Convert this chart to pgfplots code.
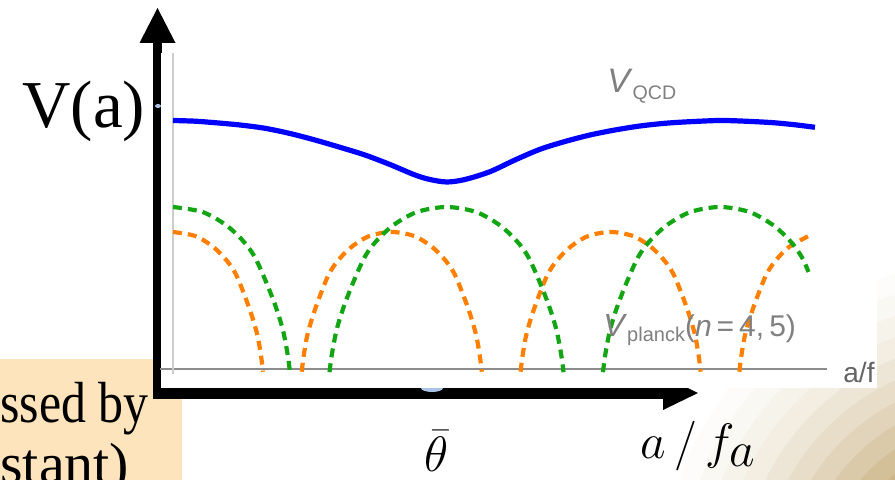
\documentclass[border=0pt]{standalone}
\usepackage{fontspec}
\setmainfont{Liberation Serif}
\newfontfamily\mmafont{Liberation Sans}
\usepackage{graphicx}
\usepackage{pgfplots}
\pgfplotsset{compat=1.18}

\definecolor{vqcd}{RGB}{0,0,255}
\definecolor{pgreen}{RGB}{20,165,20}
\definecolor{porange}{RGB}{255,128,0}
\definecolor{boxbeige}{RGB}{253,228,189}
\definecolor{labgray}{RGB}{128,128,128}
\definecolor{afgray}{RGB}{100,100,100}
\definecolor{axgray}{RGB}{140,140,140}
\definecolor{axlight}{RGB}{205,205,205}
\definecolor{tanc}{RGB}{198,172,122}
\definecolor{blobblue}{RGB}{170,195,228}

\begin{document}
\begin{tikzpicture}[x=0.5pt,y=0.5pt]
\path[use as bounding box] (0,0) rectangle (895,480);
\clip (0,0) rectangle (895,480);

% slide decoration in the lower right corner: concentric tan bands
\foreach \r/\p in {330/4,310/9,290/15,270/22,250/31,230/41,210/52,190/64,170/77,150/89,130/97}
  \fill[tanc!\p!white] (990,-110) circle (\r);

% beige text box with the end of the slide text
\fill[boxbeige] (0,0) rectangle (182,121);
\node[anchor=base west, inner sep=0pt] at (0,57)
  {\scalebox{0.86}[1]{\fontsize{29}{34}\selectfont ssed by}};
\node[anchor=base west, inner sep=0pt] at (0,-4)
  {\fontsize{29}{34}\selectfont stant)};

% thick black axes
\fill[black] (153,81) rectangle (162,437);
\fill[black] (139.5,437) -- (175.5,437) -- (157.5,472) -- cycle;
\fill[black] (153,81) rectangle (663,93);
\fill[black] (663,104) -- (698,87) -- (663,70) -- cycle;
\fill[blobblue] (432,92) ellipse (11 and 4);
\fill[blobblue] (158,374) ellipse (3 and 2);

% background of the potential plot
\fill[white] (160.5,92) rectangle (877,427);

\begin{axis}[
  at={(80pt,53pt)}, anchor=south west,
  x=43.53pt, y=50pt,
  xmin=-0.149, xmax=7.512, ymin=-0.05, ymax=3.16,
  axis lines=middle, axis line style={-},
  x axis line style={draw=axgray, line width=0.8pt},
  y axis line style={draw=axlight, line width=0.8pt},
  xtick=\empty, ytick=\empty,
  clip=false,
  unbounded coords=jump,
]
% V_QCD
\addplot[vqcd, line width=2.6pt, smooth] coordinates {
  (0,2.485)(0.253,2.478)(0.482,2.463)(0.770,2.44)(1.057,2.407)(1.344,2.355)
  (1.631,2.29)(1.918,2.217)(2.205,2.14)(2.492,2.045)(2.780,1.94)(2.952,1.895)
  (3.147,1.87)(3.354,1.895)(3.641,1.973)(3.928,2.09)(4.216,2.197)(4.503,2.275)
  (4.790,2.34)(5.077,2.39)(5.364,2.43)(5.651,2.457)(5.938,2.473)(6.283,2.485)
  (6.570,2.478)(6.892,2.463)(7.145,2.442)(7.374,2.417)
};
% V_planck, n = 5
\addplot[porange, line width=2.1pt, dash pattern=on 4.5pt off 3pt, smooth] coordinates {
  (0,1.37)(0.259,1.329)(0.465,1.219)(0.620,1.082)(0.724,0.945)(0.827,0.726)
  (0.910,0.521)(0.972,0.329)(1.013,0.123)(1.034,-0.027)
  (1.25,nan)
  (1.479,-0.027)(1.500,0.123)(1.541,0.329)(1.603,0.521)(1.686,0.726)(1.789,0.945)
  (1.893,1.082)(2.048,1.219)(2.254,1.329)(2.513,1.37)(2.772,1.329)(2.978,1.219)
  (3.133,1.082)(3.237,0.945)(3.340,0.726)(3.423,0.521)(3.485,0.329)(3.526,0.123)
  (3.547,-0.027)
  (3.77,nan)
  (3.993,-0.027)(4.014,0.123)(4.055,0.329)(4.117,0.521)(4.200,0.726)(4.303,0.945)
  (4.407,1.082)(4.562,1.219)(4.768,1.329)(5.027,1.37)(5.286,1.329)(5.492,1.219)
  (5.647,1.082)(5.751,0.945)(5.854,0.726)(5.937,0.521)(5.999,0.329)(6.040,0.123)
  (6.061,-0.027)
  (6.28,nan)
  (6.506,-0.027)(6.527,0.123)(6.568,0.329)(6.630,0.521)(6.713,0.726)(6.816,0.945)
  (6.920,1.082)(7.075,1.219)(7.30,1.33)
};
% V_planck, n = 4
\addplot[pgreen, line width=2.1pt, dash pattern=on 4.5pt off 3pt, smooth] coordinates {
  (0,1.62)(0.336,1.571)(0.605,1.442)(0.806,1.280)(0.941,1.118)(1.075,0.859)
  (1.183,0.616)(1.263,0.389)(1.317,0.146)(1.344,-0.032)
  (1.57,nan)
  (1.798,-0.032)(1.825,0.146)(1.879,0.389)(1.959,0.616)(2.067,0.859)(2.201,1.118)
  (2.336,1.280)(2.537,1.442)(2.806,1.571)(3.142,1.62)(3.478,1.571)(3.747,1.442)
  (3.948,1.280)(4.083,1.118)(4.217,0.859)(4.325,0.616)(4.405,0.389)(4.459,0.146)
  (4.486,-0.032)
  (4.71,nan)
  (4.939,-0.032)(4.966,0.146)(5.020,0.389)(5.100,0.616)(5.208,0.859)(5.342,1.118)
  (5.477,1.280)(5.678,1.442)(5.947,1.571)(6.283,1.62)(6.619,1.571)(6.888,1.442)
  (7.089,1.280)(7.224,1.118)(7.30,0.97)
};
\end{axis}

% labels of the potential plot
\node[anchor=base west, inner sep=0pt, text=labgray] at (607,387)
  {\mmafont\fontsize{17}{17}\selectfont\textit{V}\raisebox{-3.5pt}{\fontsize{9.8}{9.8}\selectfont QCD}};
\node[anchor=base west, inner sep=0pt, text=labgray] at (603,143)
  {\mmafont\fontsize{16}{16}\selectfont\textit{V}\raisebox{-2.5pt}{\fontsize{10}{10}\selectfont planck}\fontsize{15}{15}\selectfont(\textit{n}\,=\,4,\,5)};
\node[anchor=base west, inner sep=0pt] at (843,97)
  {\mmafont\color{afgray}\fontsize{14}{14}\selectfont a/f};

% slide labels
\node[anchor=base west, inner sep=0pt] at (22,352)
  {\fontsize{33.5}{40}\selectfont V(a)};
\node[anchor=base, inner sep=0pt] at (437,8)
  {\fontsize{34}{40}\selectfont$\bar{\theta}$};
\node[anchor=base west, inner sep=0pt] at (640,21)
  {\fontsize{38}{44}\selectfont$a\mskip3mu/\mskip3mu f_a$};
\end{tikzpicture}
\end{document}
